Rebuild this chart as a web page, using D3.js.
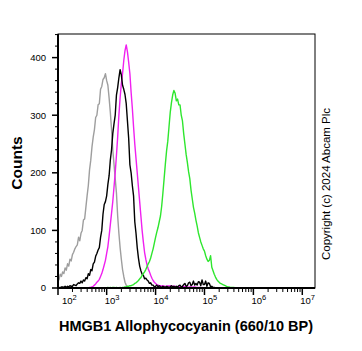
<!DOCTYPE html>
<html>
<head>
<meta charset="utf-8">
<script src="https://cdn.jsdelivr.net/npm/d3@7"></script>
<style>
  body { margin: 0; background: #fff; }
  text { font-family: Arial, "Liberation Sans", sans-serif; }
</style>
</head>
<body>
<div id="chart"></div>
<script>
// histogram channels: log10 of intensity, 0.025 decade per channel
const binStep = 0.025;

// isotype control (grey)
const grayStart = 2.0;
const grayCounts = [20, 14, 24, 20, 28, 25, 35, 31, 42, 38, 50, 47, 58, 62, 68, 72, 75, 88, 82, 95,
  100, 118, 120, 140, 160, 178, 205, 222, 245, 262, 275, 296, 300, 318, 320, 345, 350, 362, 365, 372,
  360, 352, 330, 305, 275, 240, 215, 190, 165, 125, 95, 70, 50, 32, 20, 10, 5, 2, 0, 0, 0];

// unlabelled control (black)
const blackStart = 2.0;
const blackCounts = [0, 1, 0, 2, 2, 1, 3, 1, 3, 2, 4, 3, 3, 6, 5, 4, 7, 9, 8, 12,
  9, 14, 12, 18, 16, 25, 22, 32, 30, 42, 45, 55, 60, 66, 70, 88, 100, 128, 145, 150,
  160, 180, 195, 222, 240, 268, 285, 300, 335, 348, 365, 379, 370, 352, 345, 336, 320, 290, 260, 214,
  200, 178, 160, 115, 95, 70, 52, 38, 30, 24, 22, 16, 17, 14, 12, 8, 9, 5, 5, 2,
  3, 5, 2, 4, 2, 1, 3, 2, 1, 3, 2, 1, 2, 4, 2, 3, 1, 3, 2, 4,
  5, 2, 3, 6, 8, 3, 4, 9, 10, 4, 6, 12, 5, 8, 5, 11, 10, 4, 14, 6,
  6, 12, 3, 9, 8, 2, 3, 1, 1, 0, 0];

// secondary only (magenta)
const magentaStart = 2.6;
const magentaCounts = [0, 0, 1, 1, 2, 3, 5, 7, 10, 12, 15, 20, 25, 32, 40, 48,
  60, 72, 90, 110, 130, 150, 175, 200, 230, 262, 300, 330, 355, 372, 395, 412,
  422, 410, 392, 372, 340, 312, 280, 250, 225, 200, 175, 150, 125, 100, 80, 62,
  50, 40, 33, 28, 22, 17, 13, 10, 8, 6, 5, 4, 4, 3, 4, 3, 3, 2, 4, 3, 4, 2,
  3, 3, 3, 2, 2, 3, 2, 1, 3, 2, 3, 2, 2, 1, 2, 2, 1, 2, 2, 1, 1, 1, 1, 0, 1, 0, 0];

// HMGB1 stained (green)
const greenStart = 3.0;
const greenCounts = [0, 1, 0, 1, 0, 1, 1, 0, 1, 0, 0, 1, 0, 1, 1, 2, 2, 3, 3, 4,
  4, 5, 6, 8, 9, 11, 13, 16, 18, 22, 25, 28, 32, 37, 42, 46, 52, 60, 68, 78,
  88, 97, 105, 115, 125, 142, 165, 190, 215, 238, 255, 280, 305, 322, 335, 343, 338, 325, 328, 318,
  318, 300, 290, 268, 250, 232, 218, 202, 190, 170, 155, 140, 130, 118, 108, 96, 88, 80, 74, 68,
  64, 56, 50, 46, 48, 56, 36, 30, 24, 19, 15, 12, 10, 8, 7, 6, 5, 4, 3, 2,
  2, 1, 1, 1, 1, 0, 0];

const series = [
  { name: "isotype", start: grayStart, counts: grayCounts, color: "#9e9e9e" },
  { name: "secondary", start: magentaStart, counts: magentaCounts, color: "#f020f0" },
  { name: "unlabelled", start: blackStart, counts: blackCounts, color: "#000000" },
  { name: "HMGB1", start: greenStart, counts: greenCounts, color: "#2ee62e" }
];

const yTicks = [0, 100, 200, 300, 400];
const xDecades = [2, 3, 4, 5, 6, 7];

const W = 362, H = 351;
const plotL = 58, plotR = 315, plotT = 34, plotB = 288;

const svg = d3.select("#chart").append("svg")
  .attr("width", W)
  .attr("height", H);

svg.append("rect").attr("width", W).attr("height", H).attr("fill", "#fff");

const x = d3.scaleLog()
  .domain([Math.pow(10, 2.005), Math.pow(10, 7.26)])
  .range([plotL, plotR]);

const y = d3.scaleLinear()
  .domain([0, 441])
  .range([plotB, plotT]);

svg.append("clipPath").attr("id", "plot-clip")
  .append("rect")
  .attr("x", plotL).attr("y", plotT - 2)
  .attr("width", plotR - plotL).attr("height", plotB - plotT + 2);

// histogram lines
const line = d3.line()
  .x(d => x(d.v))
  .y(d => y(d.c));

series.forEach(s => {
  const pts = s.counts.map((c, i) => ({ v: Math.pow(10, s.start + i * binStep), c: c }));
  svg.append("path")
    .datum(pts)
    .attr("clip-path", "url(#plot-clip)")
    .attr("fill", "none")
    .attr("stroke", s.color)
    .attr("stroke-width", 1.4)
    .attr("stroke-linejoin", "round")
    .attr("d", line);
});

// frame
svg.append("rect")
  .attr("x", plotL).attr("y", plotT)
  .attr("width", plotR - plotL).attr("height", plotB - plotT)
  .attr("fill", "none")
  .attr("stroke", "#000")
  .attr("stroke-width", 1);

// y axis
const yMinor = d3.range(0, 441, 20).filter(v => v % 100 !== 0);
const yAxis = svg.append("g");
yAxis.append("line")
  .attr("x1", plotL).attr("x2", plotL)
  .attr("y1", plotT).attr("y2", plotB + 1)
  .attr("stroke", "#000").attr("stroke-width", 2);
yAxis.selectAll(".ymin").data(yMinor).enter().append("line")
  .attr("x1", plotL - 3).attr("x2", plotL)
  .attr("y1", d => y(d)).attr("y2", d => y(d))
  .attr("stroke", "#000").attr("stroke-width", 1);
yAxis.selectAll(".ymaj").data(yTicks).enter().append("line")
  .attr("x1", plotL - 6).attr("x2", plotL)
  .attr("y1", d => y(d)).attr("y2", d => y(d))
  .attr("stroke", "#000").attr("stroke-width", 1.5);
yAxis.selectAll(".ylab").data(yTicks).enter().append("text")
  .attr("x", plotL - 12)
  .attr("y", d => y(d))
  .attr("dy", "0.35em")
  .attr("text-anchor", "end")
  .style("font-size", "9.5px")
  .text(d => d);

// x axis
const xAxis = svg.append("g");
xAxis.append("line")
  .attr("x1", plotL - 1).attr("x2", plotR)
  .attr("y1", plotB).attr("y2", plotB)
  .attr("stroke", "#000").attr("stroke-width", 2);
const xMinor = [];
xDecades.forEach(p => {
  for (let k = 2; k <= 9; k++) {
    const v = k * Math.pow(10, p);
    if (v < x.domain()[1]) xMinor.push(v);
  }
});
xAxis.selectAll(".xmin").data(xMinor).enter().append("line")
  .attr("x1", d => x(d)).attr("x2", d => x(d))
  .attr("y1", plotB).attr("y2", plotB + 4)
  .attr("stroke", "#000").attr("stroke-width", 1);
xAxis.selectAll(".xmaj").data(xDecades).enter().append("line")
  .attr("x1", d => Math.max(plotL, x(Math.pow(10, d))))
  .attr("x2", d => Math.max(plotL, x(Math.pow(10, d))))
  .attr("y1", plotB).attr("y2", plotB + 7)
  .attr("stroke", "#000").attr("stroke-width", 1.5);
const xLab = xAxis.selectAll(".xlab").data(xDecades).enter().append("text")
  .attr("x", d => Math.max(plotL, x(Math.pow(10, d))) + (d === 2 ? 4 : -2))
  .attr("y", plotB + 16)
  .style("font-size", "9.5px");
xLab.append("tspan").text("10");
xLab.append("tspan").attr("dy", -4).style("font-size", "7.5px").text(d => d);

// axis titles
svg.append("text")
  .attr("x", 186)
  .attr("y", 331)
  .attr("text-anchor", "middle")
  .style("font-size", "14.5px")
  .style("font-weight", "bold")
  .text("HMGB1 Allophycocyanin (660/10 BP)");

svg.append("text")
  .attr("transform", "translate(22,163) rotate(-90)")
  .attr("text-anchor", "middle")
  .style("font-size", "15.5px")
  .style("font-weight", "bold")
  .text("Counts");

svg.append("text")
  .attr("transform", "translate(330,184) rotate(-90)")
  .attr("text-anchor", "middle")
  .style("font-size", "11.5px")
  .text("Copyright (c) 2024 Abcam Plc");
</script>
</body>
</html>
